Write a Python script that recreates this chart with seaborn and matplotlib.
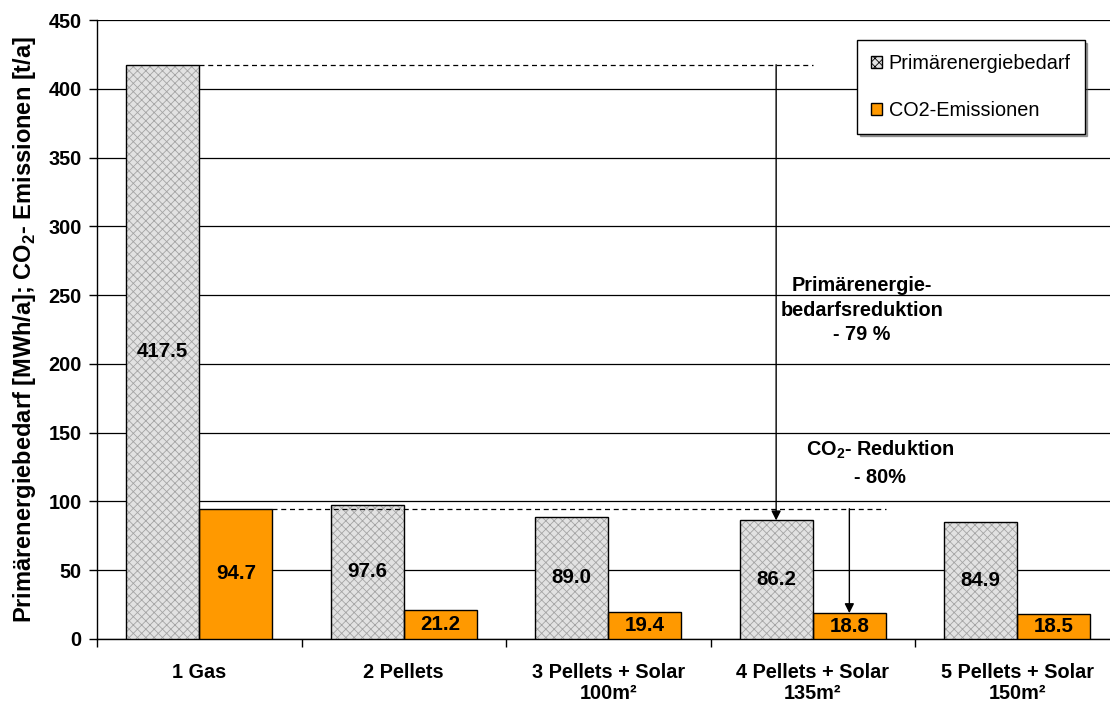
import matplotlib
matplotlib.use("Agg")
import matplotlib.pyplot as plt
from matplotlib.patches import Rectangle, Patch
import seaborn as sns
import pandas as pd

categories = ["1 Gas", "2 Pellets", "3 Pellets + Solar\n100m²",
              "4 Pellets + Solar\n135m²", "5 Pellets + Solar\n150m²"]
primary_energy = [417.5, 97.6, 89.0, 86.2, 84.9]
co2_emissions = [94.7, 21.2, 19.4, 18.8, 18.5]
series_names = ["Primärenergiebedarf", "CO2-Emissionen"]
y_ticks = [0, 50, 100, 150, 200, 250, 300, 350, 400, 450]

sns.set_theme(style="white")
plt.rcParams["font.family"] = ["Liberation Sans", "DejaVu Sans"]
plt.rcParams["mathtext.fontset"] = "custom"
plt.rcParams["mathtext.rm"] = "Liberation Sans"
plt.rcParams["mathtext.bf"] = "Liberation Sans:bold"
plt.rcParams["hatch.linewidth"] = 0.6
for key in ["text.color", "axes.labelcolor", "xtick.color", "ytick.color",
            "xtick.labelcolor", "ytick.labelcolor"]:
    plt.rcParams[key] = "black"

FS = 14.3

df = pd.DataFrame({
    "Variante": categories * 2,
    "Wert": primary_energy + co2_emissions,
    "Reihe": [series_names[0]] * len(categories) + [series_names[1]] * len(categories),
})

fig = plt.figure(figsize=(11.10, 7.02), dpi=100)
ax = fig.add_axes([97 / 1110, 1 - 639 / 702, 1022.5 / 1110, 619 / 702])

sns.barplot(data=df, x="Variante", y="Wert", hue="Reihe", order=categories,
            hue_order=series_names, palette=["#ffffff", "#ff9900"], saturation=1,
            width=0.716, dodge=True, edgecolor="black", linewidth=1.0,
            legend=False, ax=ax, zorder=3)

n = len(categories)
bars = list(ax.patches)
grey_bars = bars[:n]
orange_bars = bars[n:2 * n]

# crosshatched grey fill with a separate black outline
for p in grey_bars:
    p.set_facecolor("#e2e2e2")
    p.set_edgecolor("#a4a4a4")
    p.set_hatch("xxxx")
    p.set_linewidth(0)
    ax.add_patch(Rectangle((p.get_x(), p.get_y()), p.get_width(), p.get_height(),
                           fill=False, edgecolor="black", linewidth=1.0, zorder=4))

# value labels in the middle of each bar
for p, v in zip(grey_bars, primary_energy):
    ax.text(p.get_x() + p.get_width() / 2, v / 2, f"{v:.1f}", ha="center", va="center",
            fontsize=FS + 0.5, fontweight="bold", color="black", zorder=6)
for p, v in zip(orange_bars, co2_emissions):
    ax.text(p.get_x() + p.get_width() / 2, v / 2, f"{v:.1f}", ha="center", va="center",
            fontsize=FS + 0.5, fontweight="bold", color="black", zorder=6)

ax.set_ylim(0, 450)
ax.set_xlim(-0.5, n - 0.5)
ax.set_yticks(y_ticks)
ax.yaxis.grid(True, color="black", linewidth=0.9)
ax.set_axisbelow(True)
for side in ["top", "right"]:
    ax.spines[side].set_visible(False)
for side in ["left", "bottom"]:
    ax.spines[side].set_color("black")
    ax.spines[side].set_linewidth(1.0)

ax.tick_params(axis="y", which="major", direction="out", length=6, width=1,
               color="black", labelcolor="black", left=True, labelsize=FS, pad=5)
for lbl in ax.get_yticklabels():
    lbl.set_fontweight("bold")

ax.set_xticks(range(n))
ax.set_xticklabels(categories, fontsize=FS, fontweight="bold", linespacing=1.15)
ax.tick_params(axis="x", which="major", length=0, pad=17, labelcolor="black")
ax.set_xticks([i - 0.5 for i in range(n + 1)], minor=True)
ax.tick_params(axis="x", which="minor", direction="out", length=6, width=1,
               color="black", bottom=True)

ax.set_xlabel("")
ax.set_ylabel(r"Primärenergiebedarf [MWh/a]; CO$_\mathbf{2}$- Emissionen [t/a]",
              fontsize=17, fontweight="bold", color="black")
ax.yaxis.set_label_coords(-0.058, 0.5)

# reduction guides
x_gas_edge = grey_bars[0].get_x() + grey_bars[0].get_width()
x_gas_co2 = orange_bars[0].get_x() + orange_bars[0].get_width()
ax.plot([x_gas_edge, 3.0], [primary_energy[0]] * 2, ls=(0, (4, 3)), color="black",
        lw=0.9, zorder=5)
ax.plot([x_gas_co2, 3.36], [co2_emissions[0]] * 2, ls=(0, (4, 3)), color="black",
        lw=0.9, zorder=5)

x_arrow_pe = grey_bars[3].get_x() + grey_bars[3].get_width() / 2
x_arrow_co2 = orange_bars[3].get_x() + orange_bars[3].get_width() / 2
ax.annotate("", xy=(x_arrow_pe, primary_energy[3]), xytext=(x_arrow_pe, primary_energy[0]),
            arrowprops=dict(arrowstyle="-|>", color="black", lw=1.0,
                            mutation_scale=14, shrinkA=0, shrinkB=0), zorder=6)
ax.annotate("", xy=(x_arrow_co2, co2_emissions[3]), xytext=(x_arrow_co2, co2_emissions[0]),
            arrowprops=dict(arrowstyle="-|>", color="black", lw=1.0,
                            mutation_scale=14, shrinkA=0, shrinkB=0), zorder=6)

ax.text(3.24, 239, "Primärenergie-\nbedarfsreduktion\n- 79 %", ha="center", va="center",
        fontsize=FS, fontweight="bold", linespacing=1.35, zorder=6)
ax.text(3.33, 128, "CO$_\\mathbf{2}$- Reduktion\n- 80%", ha="center", va="center",
        fontsize=FS, fontweight="bold", linespacing=1.45, zorder=6)

# legend
handles = [Patch(facecolor="#e2e2e2", edgecolor="black", hatch="xxxx", linewidth=1),
           Patch(facecolor="#ff9900", edgecolor="black", linewidth=1)]
leg = fig.legend(handles, series_names, loc="upper left",
                 bbox_to_anchor=(857 / 1110, 1 - 40 / 702), bbox_transform=fig.transFigure,
                 fontsize=FS, frameon=True, fancybox=False, shadow=True,
                 handlelength=0.55, handleheight=0.55, handletextpad=0.35,
                 labelspacing=1.4, borderpad=0.7, borderaxespad=0)
leg.get_frame().set_edgecolor("black")
leg.get_frame().set_linewidth(1.0)
leg.set_zorder(10)

fig.savefig("out.png", dpi=100, facecolor="white")
